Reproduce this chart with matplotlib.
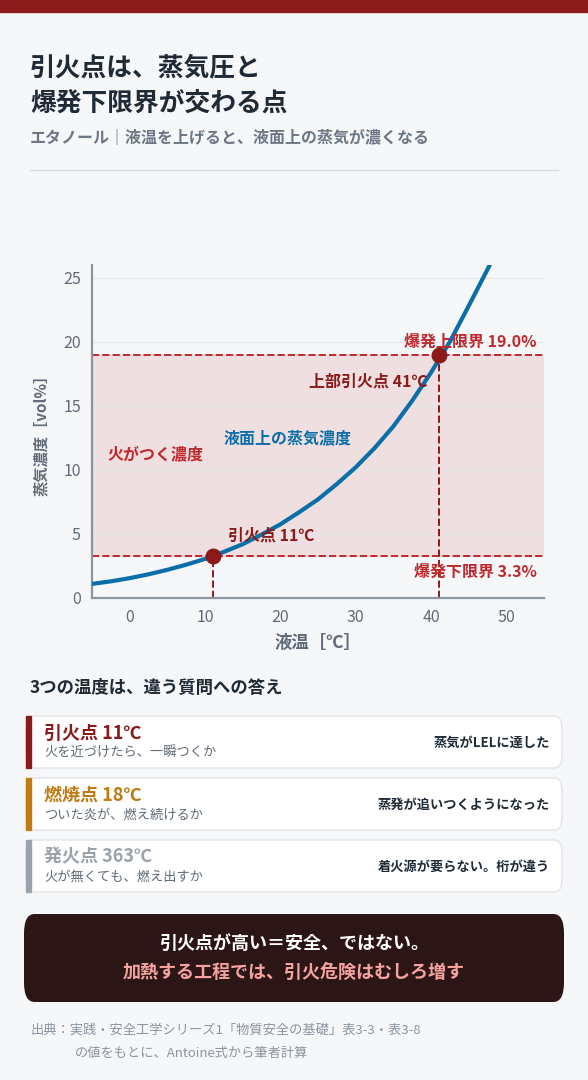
import matplotlib.pyplot as plt
from matplotlib.patches import FancyBboxPatch, Rectangle

plt.rcParams['font.family'] = ['Noto Sans CJK JP', 'DejaVu Sans']

# data
temps = [-5, -2.5, 0, 2.5, 5, 7.5, 10, 12.5, 15, 17.5, 20, 22.5, 25, 27.5, 30, 32.5,
         35, 37.5, 40, 42.5, 45, 47.8]
conc = [1.1, 1.3, 1.55, 1.85, 2.2, 2.6, 3.05, 3.6, 4.2, 4.95, 5.75, 6.7, 7.7, 8.9,
        10.2, 11.7, 13.4, 15.4, 17.6, 20.0, 22.8, 26.0]
lel, uel = 3.3, 19.0
flash_lo, flash_hi = 11, 41
xticks = [0, 10, 20, 30, 40, 50]
yticks = [0, 5, 10, 15, 20, 25]

cards = [
    ("引火点 11℃", "火を近づけたら、一瞬つくか", "蒸気がLELに達した", "#8b1a1a"),
    ("燃焼点 18℃", "ついた炎が、燃え続けるか", "蒸発が追いつくようになった", "#c07a12"),
    ("発火点 363℃", "火が無くても、燃え出すか", "着火源が要らない。桁が違う", "#9aa3ad"),
]

W, H = 588, 1080
BG = '#f6f7f9'
RED = '#8b1a1a'
DRED = '#c0282c'
BLUE = '#0a6fa8'
fig = plt.figure(figsize=(W / 100, H / 100), dpi=100, facecolor=BG)

def fx(x): return x / W
def fy(y): return 1 - y / H

fig.add_artist(Rectangle((0, fy(12)), 1, 12 / H, color=RED, transform=fig.transFigure))
fig.text(fx(30), fy(68), "引火点は、蒸気圧と", fontsize=18.5, weight='bold', color='#1e2a36', va='center')
fig.text(fx(30), fy(103), "爆発下限界が交わる点", fontsize=18.5, weight='bold', color='#1e2a36', va='center')
fig.text(fx(30), fy(138), "エタノール｜液温を上げると、液面上の蒸気が濃くなる", fontsize=11.5, weight='bold',
         color='#6b7785', va='center')
fig.add_artist(plt.Line2D([fx(30), fx(558)], [fy(170), fy(170)], color='#d8dce0', lw=1))

ax = fig.add_axes([fx(92), fy(598), fx(544) - fx(92), (598 - 265) / H])
ax.set_facecolor(BG)
ax.set_xlim(-5, 55)
ax.set_ylim(0, 26)
ax.axhspan(lel, uel, color='#efdfe1', zorder=0)
ax.axhline(uel, color=DRED, ls='--', lw=1.4, zorder=2)
ax.axhline(lel, color=DRED, ls='--', lw=1.4, zorder=2)
ax.plot([flash_lo, flash_lo], [0, lel], color=RED, ls='--', lw=1.4)
ax.plot([flash_hi, flash_hi], [0, uel], color=RED, ls='--', lw=1.4)
ax.plot(temps, conc, color=BLUE, lw=3, zorder=3, solid_capstyle='round')
ax.scatter([flash_lo, flash_hi], [lel, uel], s=110, color=RED, zorder=4)
ax.set_xticks(xticks)
ax.set_yticks(yticks)
ax.grid(axis='y', color='#e3e6ea', lw=0.8)
ax.set_axisbelow(True)
for s in ['top', 'right']:
    ax.spines[s].set_visible(False)
for s in ['left', 'bottom']:
    ax.spines[s].set_color('#8a95a0')
    ax.spines[s].set_linewidth(1.6)
ax.tick_params(colors='#5f6b78', labelsize=11.5, length=0, pad=8)
ax.set_xlabel("液温［℃］", fontsize=12.5, weight='bold', color='#5f6b78', labelpad=6)
ax.set_ylabel("蒸気濃度［vol%］", fontsize=11, weight='bold', color='#5f6b78', labelpad=10)
ax.text(54, uel + 0.4, "爆発上限界 19.0%", color=DRED, fontsize=11.5, weight='bold', ha='right', va='bottom')
ax.text(54, lel - 0.6, "爆発下限界 3.3%", color=DRED, fontsize=11.5, weight='bold', ha='right', va='top')
ax.text(flash_hi - 1.5, 16.9, "上部引火点 41℃", color=RED, fontsize=11.5, weight='bold', ha='right', va='center')
ax.text(flash_lo + 2, 4.9, "引火点 11℃", color=RED, fontsize=11.5, weight='bold', ha='left', va='center')
ax.text(-3, 11.2, "火がつく濃度", color=DRED, fontsize=11.5, weight='bold', va='center')
ax.text(21, 12.5, "液面上の蒸気濃度", color=BLUE, fontsize=11.5, weight='bold', ha='center', va='center')

fig.text(fx(30), fy(688), "3つの温度は、違う質問への答え", fontsize=12.5, weight='bold', color='#1e2a36', va='center')
for i, (title, sub, right, col) in enumerate(cards):
    top = 716 + i * 62
    fig.add_artist(FancyBboxPatch((fx(26), fy(top + 52)), fx(536), 52 / H,
                                  boxstyle='round,pad=0,rounding_size=0.012', transform=fig.transFigure,
                                  facecolor='white', edgecolor='#e2e5e9', lw=1))
    fig.add_artist(Rectangle((fx(26), fy(top + 52)), fx(5), 52 / H, color=col, transform=fig.transFigure))
    fig.text(fx(44), fy(top + 17), title, fontsize=13, weight='bold', color=col, va='center')
    fig.text(fx(44), fy(top + 37), sub, fontsize=9.5, color='#5f6b78', va='center')
    fig.text(fx(550), fy(top + 27), right, fontsize=9.5, weight='bold', color='#1e2a36', va='center', ha='right')

fig.add_artist(FancyBboxPatch((fx(24), fy(1002)), fx(540), 88 / H,
                              boxstyle='round,pad=0,rounding_size=0.018', transform=fig.transFigure,
                              facecolor='#2b1515', edgecolor='none'))
fig.text(0.5, fy(943), "引火点が高い＝安全、ではない。", fontsize=13, weight='bold', color='white', ha='center', va='center')
fig.text(0.5, fy(972), "加熱する工程では、引火危険はむしろ増す", fontsize=13, weight='bold', color='#f4a3a0',
         ha='center', va='center')

fig.text(fx(30), fy(1030), "出典：実践・安全工学シリーズ1「物質安全の基礎」表3-3・表3-8", fontsize=9.5, color='#8a95a0', va='center')
fig.text(fx(75), fy(1053), "の値をもとに、Antoine式から筆者計算", fontsize=9.5, color='#8a95a0', va='center')

fig.savefig('out.png', dpi=100, facecolor=BG)
